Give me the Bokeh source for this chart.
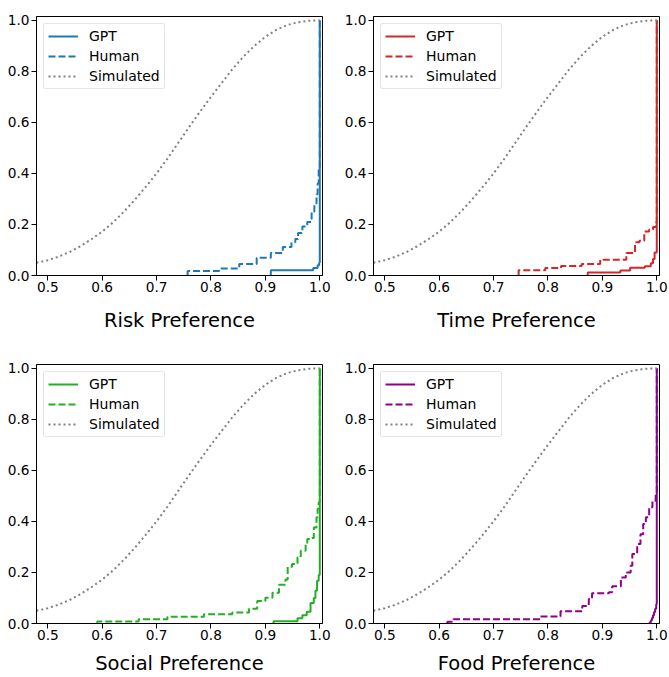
from bokeh.plotting import figure
from bokeh.layouts import column, row
from bokeh.models import Range1d, FixedTicker
from bokeh.embed import file_html
from bokeh.resources import INLINE

# ---------------- data ----------------
x_ticks = [0.5, 0.6, 0.7, 0.8, 0.9, 1.0]
x_tick_labels = ["0.5", "0.6", "0.7", "0.8", "0.9", "1.0"]
y_ticks = [0.0, 0.2, 0.4, 0.6, 0.8, 1.0]
y_tick_labels = ["0.0", "0.2", "0.4", "0.6", "0.8", "1.0"]

titles = ["Risk Preference", "Time Preference", "Social Preference", "Food Preference"]
colors = ["#1f77b4", "#d62728", "#22b022", "#8e008e"]
series_names = ["GPT", "Human", "Simulated"]

sim_x = [0.479, 0.50, 0.52, 0.54, 0.56, 0.58, 0.60, 0.62, 0.64, 0.66, 0.68, 0.70,
         0.72, 0.74, 0.76, 0.78, 0.80, 0.82, 0.84, 0.86, 0.88, 0.90, 0.92, 0.94,
         0.96, 0.98, 1.00]
sim_y = [0.050, 0.060, 0.074, 0.092, 0.115, 0.142, 0.172, 0.208, 0.250, 0.297, 0.347, 0.400,
         0.458, 0.520, 0.582, 0.642, 0.700, 0.755, 0.810, 0.858, 0.900, 0.935, 0.962, 0.981,
         0.992, 0.998, 1.000]

risk_gpt_x = [0.910, 0.910, 0.988, 0.996, 0.999, 1.000]
risk_gpt_y = [0.0, 0.021, 0.029, 0.040, 0.050, 1.0]
risk_human_x = [0.757, 0.757, 0.815, 0.852, 0.884, 0.910, 0.932, 0.948, 0.955, 0.960, 0.968,
                0.977, 0.985, 0.990, 0.994, 0.996, 0.998, 1.000]
risk_human_y = [0.0, 0.018, 0.027, 0.045, 0.070, 0.088, 0.112, 0.130, 0.143, 0.166, 0.192,
                0.210, 0.250, 0.282, 0.318, 0.360, 0.420, 1.0]

time_gpt_x = [0.873, 0.873, 0.933, 0.951, 0.978, 0.989, 0.993, 0.996, 1.000]
time_gpt_y = [0.0, 0.012, 0.020, 0.030, 0.036, 0.048, 0.065, 0.090, 1.0]
time_human_x = [0.746, 0.746, 0.795, 0.824, 0.862, 0.896, 0.944, 0.960, 0.968, 0.977,
                0.986, 0.993, 0.998, 1.000]
time_human_y = [0.0, 0.021, 0.029, 0.037, 0.045, 0.062, 0.088, 0.130, 0.136, 0.172,
                0.180, 0.190, 0.208, 1.0]

social_gpt_x = [0.915, 0.915, 0.959, 0.968, 0.976, 0.983, 0.989, 0.992, 0.995, 0.998, 1.000]
social_gpt_y = [0.0, 0.009, 0.021, 0.032, 0.046, 0.080, 0.100, 0.128, 0.167, 0.190, 1.0]
social_human_x = [0.591, 0.591, 0.667, 0.720, 0.787, 0.839, 0.870, 0.885, 0.900, 0.913,
                  0.925, 0.937, 0.941, 0.949, 0.959, 0.965, 0.974, 0.977, 0.985, 0.989,
                  0.994, 0.996, 0.998, 1.000]
social_human_y = [0.0, 0.008, 0.017, 0.026, 0.036, 0.043, 0.058, 0.088, 0.101, 0.120,
                  0.152, 0.172, 0.222, 0.233, 0.259, 0.285, 0.311, 0.331, 0.335, 0.376,
                  0.416, 0.449, 0.474, 1.0]

food_gpt_x = [0.987, 0.987, 0.989, 0.991, 0.993, 0.995, 0.997, 0.999, 1.000]
food_gpt_y = [0.0, 0.004, 0.012, 0.022, 0.032, 0.045, 0.058, 0.075, 1.0]
food_human_x = [0.615, 0.615, 0.626, 0.786, 0.823, 0.863, 0.875, 0.881, 0.912, 0.918,
                0.934, 0.943, 0.952, 0.955, 0.964, 0.970, 0.975, 0.980, 0.986, 0.992,
                0.998, 1.000]
food_human_y = [0.0, 0.007, 0.017, 0.027, 0.048, 0.069, 0.096, 0.118, 0.122, 0.146,
                0.180, 0.200, 0.226, 0.272, 0.311, 0.350, 0.390, 0.416, 0.455, 0.481,
                0.514, 1.0]

gpt_xs = [risk_gpt_x, time_gpt_x, social_gpt_x, food_gpt_x]
gpt_ys = [risk_gpt_y, time_gpt_y, social_gpt_y, food_gpt_y]
human_xs = [risk_human_x, time_human_x, social_human_x, food_human_x]
human_ys = [risk_human_y, time_human_y, social_human_y, food_human_y]

# ---------------- style ----------------
FONT = "DejaVu Sans"
X_MIN, X_MAX = 0.4792, 1.0050
Y_MIN, Y_MAX = 0.0, 1.0145


def make_panel(i, width, height, bl, br, bt, bb, title_standoff):
    p = figure(width=width, height=height, output_backend="svg", toolbar_location=None,
               x_range=Range1d(X_MIN, X_MAX), y_range=Range1d(Y_MIN, Y_MAX),
               min_border_left=bl, min_border_right=br,
               min_border_top=bt, min_border_bottom=bb,
               background_fill_color="white", border_fill_color="white")
    c = colors[i]
    p.step(gpt_xs[i], gpt_ys[i], mode="after", line_color=c, line_width=2,
           legend_label=series_names[0])
    p.step(human_xs[i], human_ys[i], mode="after", line_color=c, line_width=2,
           line_dash="7 3", legend_label=series_names[1])
    p.line(sim_x, sim_y, line_color="#808080", line_width=2, line_dash="2 3",
           legend_label=series_names[2])

    p.grid.visible = False
    p.outline_line_color = "black"
    p.outline_line_width = 1
    p.outline_line_alpha = 1

    p.xaxis.ticker = FixedTicker(ticks=x_ticks)
    p.xaxis.major_label_overrides = {t: l for t, l in zip(x_ticks, x_tick_labels)}
    p.yaxis.ticker = FixedTicker(ticks=y_ticks)
    p.yaxis.major_label_overrides = {t: l for t, l in zip(y_ticks, y_tick_labels)}
    for ax in (p.xaxis, p.yaxis):
        ax.axis_line_color = "black"
        ax.axis_line_width = 1
        ax.major_tick_line_color = "black"
        ax.major_tick_line_width = 1
        ax.major_tick_out = 5
        ax.major_tick_in = 0
        ax.minor_tick_line_color = None
        ax.major_label_text_font = FONT
        ax.major_label_text_font_size = "13.7px"
        ax.major_label_text_color = "black"
    p.xaxis.major_label_standoff = 1
    p.yaxis.major_label_standoff = 2

    p.xaxis.axis_label = titles[i]
    p.xaxis.axis_label_text_font = FONT
    p.xaxis.axis_label_text_font_size = "19.5px"
    p.xaxis.axis_label_text_font_style = "normal"
    p.xaxis.axis_label_text_color = "black"
    p.xaxis.axis_label_standoff = title_standoff

    lg = p.legend[0]
    lg.location = "top_left"
    lg.margin = 7
    lg.padding = 4
    lg.spacing = 4
    lg.glyph_width = 30
    lg.glyph_height = 16
    lg.label_height = 16
    lg.label_standoff = 11
    lg.label_text_font = FONT
    lg.label_text_font_size = "14px"
    lg.label_text_color = "black"
    lg.border_line_color = "#cccccc"
    lg.border_line_width = 1
    lg.background_fill_alpha = 0.8
    if "border_radius" in lg.properties():
        lg.border_radius = 3
    return p


p1 = make_panel(0, 337, 348, 36, 15, 16, 73, 14)
p2 = make_panel(1, 332, 348, 36, 10, 16, 73, 14)
p3 = make_panel(2, 337, 329, 36, 15, 16, 54, 9)
p4 = make_panel(3, 332, 329, 36, 10, 16, 54, 9)

layout = column(row(p1, p2), row(p3, p4))

open("out.html", "w").write(file_html(layout, INLINE))
